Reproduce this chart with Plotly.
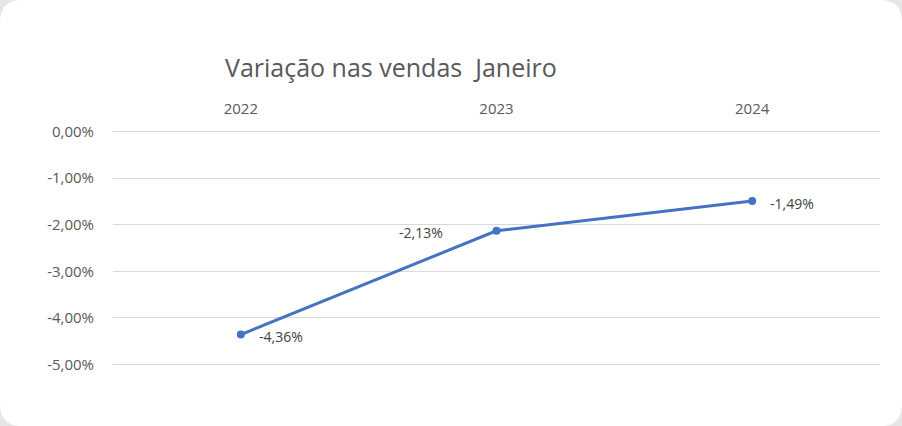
import plotly.graph_objects as go

years = ["2022", "2023", "2024"]
variation = [-0.0436, -0.0213, -0.0149]
label_side = ["right", "left", "right"]
y_ticks = [0, -0.01, -0.02, -0.03, -0.04, -0.05]

W, H = 902, 426
pad = 0.001          # axis padding beyond the tick range
px_per_unit = 4640   # 46.4 px per 1 %
pad_px = pad * px_per_unit
ML, MR = 113, 22
MT, MB = round(132 - pad_px), round(62 - pad_px)
blue = "#4472C4"
grey_txt = "#595959"
font = "Open Sans"

fig = go.Figure()
fig.add_trace(go.Scatter(
    x=years, y=variation, mode="lines+markers",
    line=dict(color=blue, width=3),
    marker=dict(color=blue, size=8),
    hoverinfo="skip", showlegend=False,
))

def fmt(v):
    return ("%.2f%%" % (v * 100)).replace(".", ",")

for i, (v, side) in enumerate(zip(variation, label_side)):
    fig.add_annotation(
        x=i, y=v, xref="x", yref="y", text=fmt(v), showarrow=False,
        xanchor="left" if side == "right" else "right",
        xshift=16 if side == "right" else -52,
        yshift=-2,
        font=dict(family=font, size=14, color="#404040"),
    )

# rounded white card on grey backdrop
r = 22
x0, x1 = -ML, W - ML
y0, y1 = -MB, H - MB
path = (f"M {x0+r},{y0} L {x1-r},{y0} Q {x1},{y0} {x1},{y0+r} "
        f"L {x1},{y1-r} Q {x1},{y1} {x1-r},{y1} L {x0+r},{y1} "
        f"Q {x0},{y1} {x0},{y1-r} L {x0},{y0+r} Q {x0},{y0} {x0+r},{y0} Z")
fig.add_shape(type="path", path=path, xref="paper", yref="paper",
              xsizemode="pixel", ysizemode="pixel", xanchor=0, yanchor=0,
              fillcolor="white", line=dict(width=0), layer="below")

fig.update_layout(
    width=W, height=H,
    margin=dict(l=ML, r=MR, t=MT, b=MB),
    paper_bgcolor="#e6e6e6", plot_bgcolor="rgba(0,0,0,0)",
    separators=",.",
    title=dict(text="Variação nas vendas  Janeiro", x=225 / W, xanchor="left",
               y=1 - 68 / H, yanchor="middle",
               font=dict(family=font, size=25, color=grey_txt)),
    xaxis=dict(side="top", type="category", range=[-0.5, 2.5],
               showgrid=False, showline=False, zeroline=False,
               ticks="", ticklabelstandoff=round(14 - pad_px),
               tickfont=dict(family=font, size=15, color=grey_txt)),
    yaxis=dict(range=[min(y_ticks) - pad, max(y_ticks) + pad], tickvals=y_ticks,
               ticktext=[fmt(v) for v in y_ticks],
               showgrid=True, gridcolor="#d9d9d9", gridwidth=1,
               zeroline=False, showline=False, ticks="",
               ticklabelstandoff=18,
               tickfont=dict(family=font, size=15, color=grey_txt)),
)

fig.write_html("out.html")
